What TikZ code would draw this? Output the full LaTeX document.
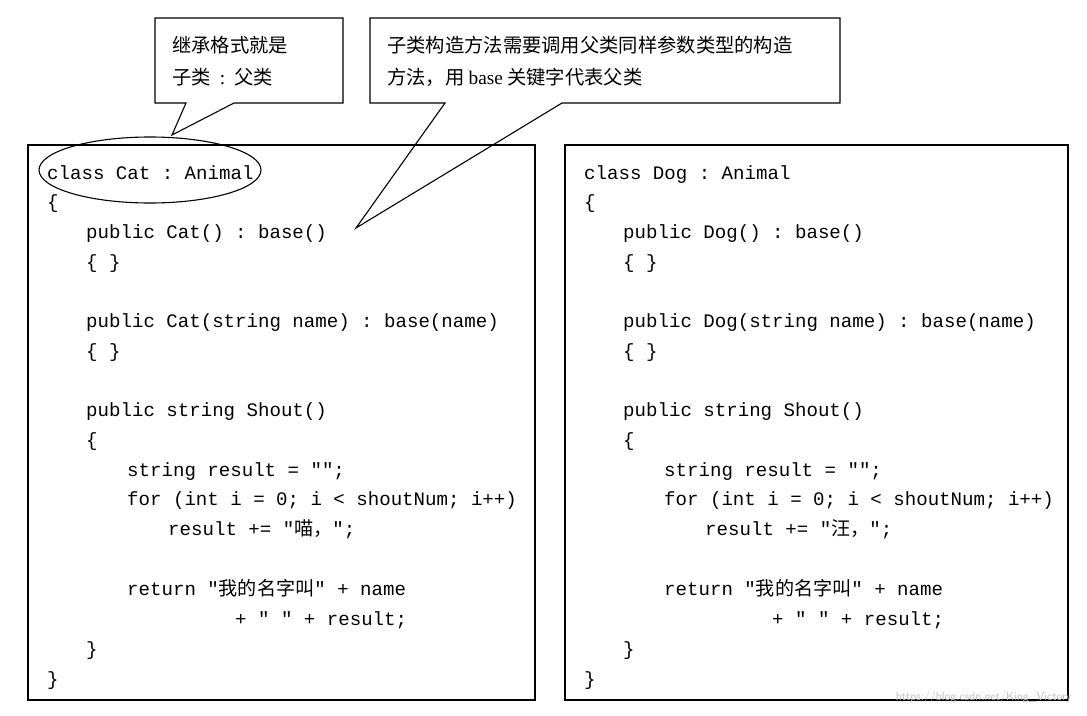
\documentclass[tikz,border=0pt]{standalone}
\usepackage{fontspec}
\setmonofont{Liberation Mono}
\newfontfamily\cjk{Noto Sans CJK SC}
\begin{document}
\begin{tikzpicture}[x=1pt,y=-1pt,
  code/.style={anchor=base west,inner sep=0pt,font=\fontsize{19.1}{20}\ttfamily},
  note/.style={anchor=base west,inner sep=0pt,font=\fontsize{19.3}{20}\cjk},
  frame/.style={draw,line width=1.1pt}]
\useasboundingbox (0,0) rectangle (1087,715);
% callouts
\draw[frame,fill=white] (155,18) -- (343,18) -- (343,103) -- (234,103) -- (172,135) -- (186,103) -- (155,103) -- cycle;
\draw[frame] (370,18) -- (840,18) -- (840,103) -- (562,103) -- (356,228) -- (445,103) -- (370,103) -- cycle;
\node[note] (n1) at (172,52) {继承格式就是};
\node[note] (n2) at (172,84) {子类\hspace{9pt}{\fontspec{Liberation Serif}:}\hspace{9pt}父类};
\node[note] (n3) at (387,52) {子类构造方法需要调用父类同样参数类型的构造};
\node[note] (n4) at (387,84) {方法，用 {\fontspec{Liberation Serif}base} 关键字代表父类};
% boxes
\draw[frame] (28,145) rectangle (535,700);
\draw[frame] (565,145) rectangle (1068,700);
\def\codeblock#1#2#3{%
\node[code] at (#1,179) {class #2 : Animal};
\node[code] at (#1,208) {\{};
\node[code] at (#1+39,238) {public #2() : base()};
\node[code] at (#1+39,268) {\{ \}};
\node[code] at (#1+39,327) {public #2(string name) : base(name)};
\node[code] at (#1+39,357) {\{ \}};
\node[code] at (#1+39,416) {public string Shout()};
\node[code] at (#1+39,446) {\{};
\node[code] at (#1+80,476) {string result = "";};
\node[code] at (#1+80,505) {for (int i = 0; i < shoutNum; i++)};
\node[code] at (#1+121,535) {result += "{\cjk #3，}";};
\node[code] at (#1+80,595) {return "{\cjk 我的名字叫}" + name};
\node[code] at (#1+188,625) {+ " " + result;};
\node[code] at (#1+39,655) {\}};
\node[code] at (#1,685) {\}};}
\codeblock{47}{Cat}{喵}
\codeblock{584}{Dog}{汪}
\draw[line width=1.1pt] (150,170) ellipse [x radius=111,y radius=33];
\node[anchor=base east,text=black!25,font=\fontsize{12}{12}\sffamily] (wm) at (1075,700) {https://blog.csdn.net/King\_Victory};
\end{tikzpicture}
\end{document}
